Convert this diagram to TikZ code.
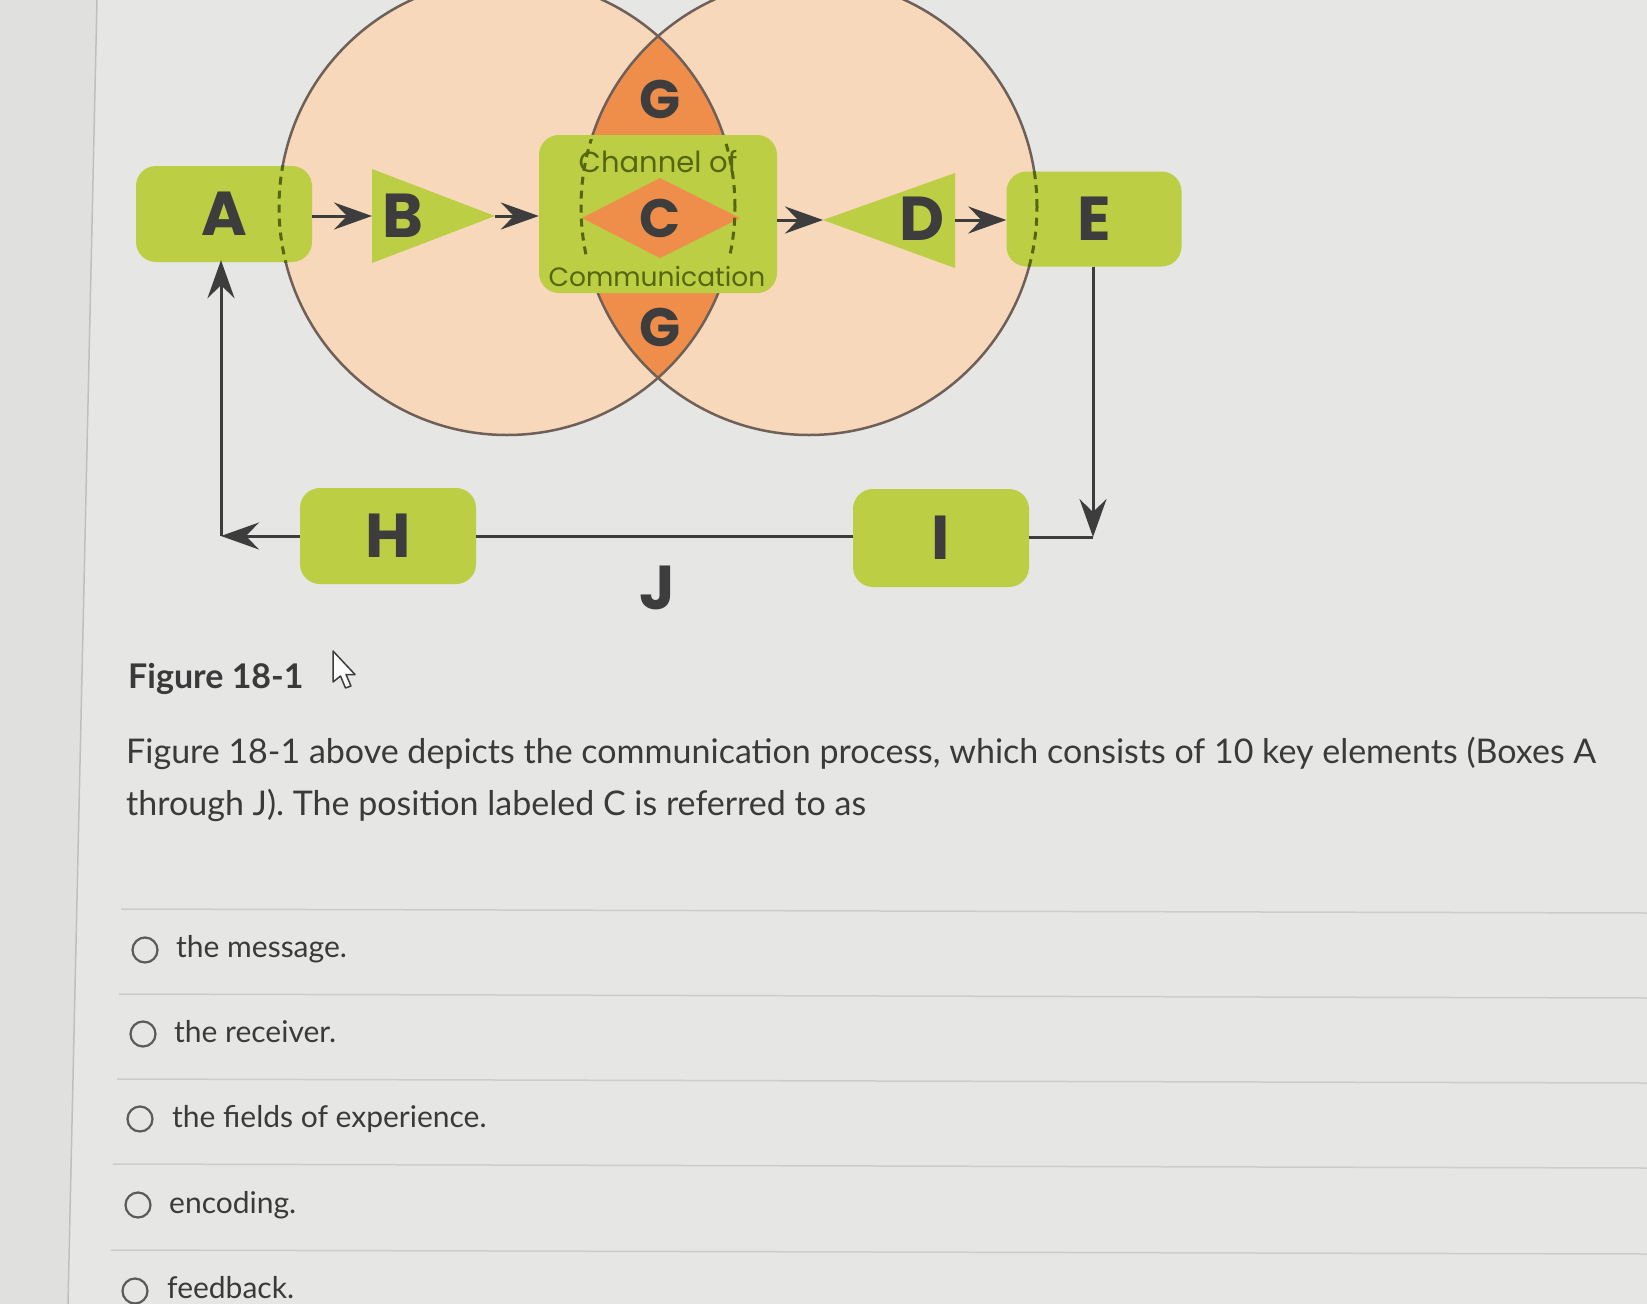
\documentclass[tikz,border=0pt]{standalone}
\usepackage{fontspec}
\setmainfont{Lato}
\newfontfamily\pop{Poppins}
\usetikzlibrary{arrows.meta}
\definecolor{bg}{HTML}{E6E6E4}
\definecolor{lstrip}{HTML}{E0E0DE}
\definecolor{peach}{HTML}{F7D8BB}
\definecolor{lens}{HTML}{EF8E4B}
\definecolor{lime}{HTML}{BBCE44}
\definecolor{olive}{HTML}{56660E}
\definecolor{ink}{HTML}{3D3D3D}
\definecolor{rim}{HTML}{6E6058}
\definecolor{rulec}{HTML}{CDCDCB}
\definecolor{txt}{HTML}{3A3A3A}
\begin{document}
\begin{tikzpicture}[x=1pt,y=-1pt,
  gbox/.style={fill=lime, rounded corners=20pt, inner sep=0pt, text=ink,
    font=\pop\bfseries\fontsize{62}{62}\selectfont},
  letter/.style={text=ink, inner sep=0pt, font=\pop\bfseries\fontsize{62}{62}\selectfont},
  gletter/.style={text=ink, inner sep=0pt, font=\pop\bfseries\fontsize{54}{54}\selectfont},
  chantext/.style={text=olive, inner sep=0pt},
  dasharc/.style={draw=olive, line width=3pt, dash pattern=on 8pt off 6pt},
  rimline/.style={draw=rim, line width=2.5pt},
  conn/.style={draw=ink, line width=3pt},
  arr/.style={conn, -{Stealth[length=38pt,width=27pt,inset=13pt]}},
  para/.style={text=txt, inner sep=0pt, anchor=base west, font=\fontsize{34}{34}\selectfont},
  opt/.style={text=txt, inner sep=0pt, anchor=base west, font=\fontsize{30}{30}\selectfont},
  radio/.style={draw=ink!85, line width=2.2pt},
  sep/.style={draw=rulec, line width=1.5pt}
]
\useasboundingbox (0,0) rectangle (1647,1304);
\fill[bg] (0,0) rectangle (1647,1304);
\fill[lstrip] (0,0) -- (97,0) -- (68,1304) -- (0,1304) -- cycle;
\draw[draw=gray!50, line width=1.5pt] (97,0) -- (68,1304);

% fields of experience
\coordinate (CL) at (507,207);
\coordinate (CR) at (809,207);
\fill[peach] (CL) circle (228pt);
\fill[peach] (CR) circle (228pt);
\begin{scope}
  \clip (CL) circle (228pt);
  \fill[lens] (CR) circle (228pt);
\end{scope}
\draw[rimline] (CL) circle (228pt);
\draw[rimline] (CR) circle (228pt);

% boxes
\node[gbox, minimum width=176pt, minimum height=96pt] (A) at (224,214) {A};
\node[gbox, minimum width=238pt, minimum height=158pt] (Ch) at (658,214) {};
\node[gbox, minimum width=175pt, minimum height=95pt] (E) at (1094,219) {E};
\node[gbox, minimum width=176pt, minimum height=96pt] (H) at (388,536) {H};
\node[gbox, minimum width=176pt, minimum height=98pt] (I) at (941,538) {I};

% triangles and diamond
\fill[lime] (372,169) -- (372,263) -- (495,216) -- cycle;
\fill[lime] (955,173) -- (955,268) -- (823,220) -- cycle;
\fill[lens] (582,218) -- (660,178) -- (740,218) -- (660,258) -- cycle;

% dashed arcs
\begin{scope}
  \clip (A.south west) rectangle (A.north east);
  \draw[dasharc] (CL) circle (228pt);
\end{scope}
\begin{scope}
  \clip (E.south west) rectangle (E.north east);
  \draw[dasharc] (CR) circle (228pt);
\end{scope}
\begin{scope}
  \clip (539,139) rectangle (777,258);
  \draw[dasharc] (CL) circle (228pt);
  \draw[dasharc] (CR) circle (228pt);
\end{scope}

% labels
\node[letter] (B) at (403,216) {B};
\node[letter] (D) at (922,219) {D};
\node[gletter] (C) at (660,218) {C};
\node[gletter] (G1) at (660,99) {G};
\node[gletter] (G2) at (660,327) {G};
\node[chantext, font=\pop\fontsize{29}{29}\selectfont] (Ch1) at (658,162) {Channel of};
\node[chantext, font=\pop\fontsize{26.5}{26.5}\selectfont] (Ch2) at (657,277) {Communication};
\node[letter] (J) at (657,588) {J};

% connectors
\coordinate (Bl) at (372,216);
\coordinate (Bt) at (495,216);
\coordinate (Dt) at (823,220);
\coordinate (Db) at (955,220);
\coordinate (cornerR) at (1093,537);
\coordinate (cornerL) at (221,536);
\draw[arr] (A.east |- Bl) -- (Bl);
\draw[arr] (Bt) -- (Ch.west |- Bt);
\draw[arr] (Ch.east |- Dt) -- (Dt);
\draw[arr] (Db) -- (E.west |- Db);
\draw[arr] (E.south -| cornerR) -- (cornerR);
\draw[conn] (I.east |- cornerR) -- (cornerR);
\draw[conn] (H.east) -- (I.west |- H.east);
\draw[arr] (H.west) -- (cornerL);
\draw[arr, shorten >=-2pt] (cornerL) -- (A.south -| cornerL);

% question text
\node[para, font=\bfseries\fontsize{34}{34}\selectfont] (fig) at (128,688) {Figure 18-1};
\draw[fill=white!90!bg, draw=ink, line width=1.5pt, line join=round]
  (333,651) -- (333,682) -- (340.5,676) -- (345.5,688) -- (351,686) -- (346,674.5) -- (355,674.5) -- cycle;
\node[para] (q1) at (126,763) {Figure 18-1 above depicts the communication process, which consists of 10 key elements (Boxes A};
\node[para] (q2) at (126,815) {through J). The position labeled C is referred to as};

% answer options
\draw[sep] (121,909) -- (1647,913);
\draw[sep] (119,994) -- (1647,998);
\draw[sep] (117,1079) -- (1647,1083);
\draw[sep] (113,1164) -- (1647,1168);
\draw[sep] (111,1250) -- (1647,1254);

\draw[radio] (145,950) circle (12.5pt);
\draw[radio] (143,1034) circle (12.5pt);
\draw[radio] (140,1119) circle (12.5pt);
\draw[radio] (138,1205) circle (12.5pt);
\draw[radio] (135,1291) circle (12.5pt);
\node[opt] (o1) at (176,957) {the message.};
\node[opt] (o2) at (174,1042) {the receiver.};
\node[opt] (o3) at (172,1127) {the fields of experience.};
\node[opt] (o4) at (169,1213) {encoding.};
\node[opt] (o5) at (167,1298) {feedback.};
\end{tikzpicture}
\end{document}
